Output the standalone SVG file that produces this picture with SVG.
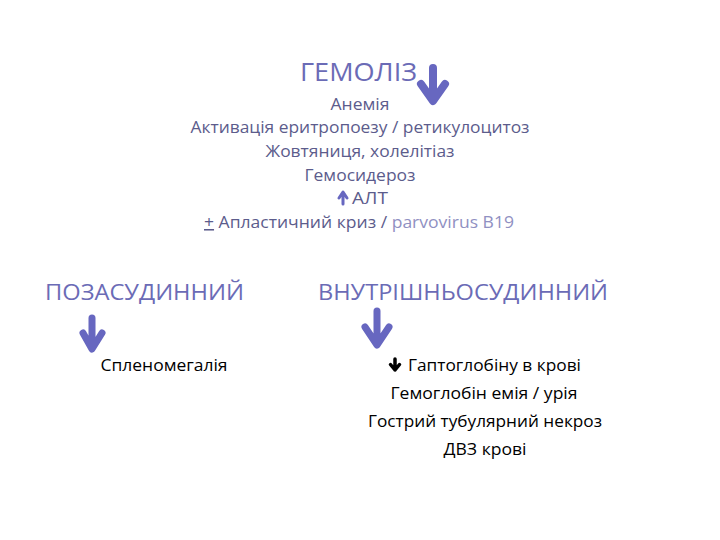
<svg xmlns="http://www.w3.org/2000/svg" width="720" height="540" viewBox="0 0 720 540">
<defs>
<style>
text{font-family:"Open Sans","Noto Sans","Liberation Sans",sans-serif;}
.h{fill:#6b6bb6;font-size:22px;}
.t{fill:#5c5c8c;font-size:15.5px;text-anchor:middle;}
.b{fill:#000;font-size:15.5px;text-anchor:middle;}
.lt{fill:#9090c2;}
.arr{fill:none;stroke:#6767c0;stroke-width:7;stroke-linecap:round;stroke-linejoin:round;}
</style>
</defs>
<rect width="720" height="540" fill="#fff"/>
<g id="hemolysis">
<text x="300" y="81" class="h" style="font-size:26px" textLength="117" lengthAdjust="spacingAndGlyphs">ГЕМОЛІЗ</text>
<text x="360" y="110" class="t" textLength="59" lengthAdjust="spacingAndGlyphs">Анемія</text>
<text x="360" y="133" class="t" textLength="339" lengthAdjust="spacingAndGlyphs">Активація еритропоезу / ретикулоцитоз</text>
<text x="360" y="157" class="t" textLength="189" lengthAdjust="spacingAndGlyphs">Жовтяниця, холелітіаз</text>
<text x="360" y="181" class="t" textLength="111" lengthAdjust="spacingAndGlyphs">Гемосидероз</text>
<path d="M343,204 V194 M339,198 L343,192 L347,198" fill="none" stroke="#6767c0" stroke-width="3" stroke-linecap="round" stroke-linejoin="round"/>
<text x="352" y="204" class="t" style="text-anchor:start" textLength="36" lengthAdjust="spacingAndGlyphs">АЛТ</text>
<text x="204" y="228" class="t" style="text-anchor:start" textLength="310" lengthAdjust="spacingAndGlyphs"><tspan text-decoration="underline">+</tspan> Апластичний криз / <tspan class="lt">parvovirus B19</tspan></text>
</g>
<g id="extravascular">
<text x="45" y="300" class="h" textLength="199" lengthAdjust="spacingAndGlyphs">ПОЗАСУДИННИЙ</text>
<text x="164" y="371" class="b" textLength="127" lengthAdjust="spacingAndGlyphs">Спленомегалія</text>
</g>
<g id="intravascular">
<text x="318" y="300" class="h" textLength="290" lengthAdjust="spacingAndGlyphs">ВНУТРІШНЬОСУДИННИЙ</text>
<path d="M395,370 V359 M390.5,364.5 L395,370 L399.5,364.5" fill="none" stroke="#000" stroke-width="3.5" stroke-linecap="round" stroke-linejoin="round"/>
<text x="408" y="371" class="b" style="text-anchor:start" textLength="173" lengthAdjust="spacingAndGlyphs">Гаптоглобіну в крові</text>
<text x="484" y="399" class="b" textLength="187" lengthAdjust="spacingAndGlyphs">Гемоглобін емія / урія</text>
<text x="485" y="427" class="b" textLength="234" lengthAdjust="spacingAndGlyphs">Гострий тубулярний некроз</text>
<text x="485" y="455" class="b" textLength="83" lengthAdjust="spacingAndGlyphs">ДВЗ крові</text>
</g>
<g id="connectors">
<path class="arr" style="stroke-width:8" d="M433,68 V100 M421,84 L433,101 L445,84"/>
<path class="arr" d="M92,318 V348 M83,333 L92,349 L102,333"/>
<path class="arr" d="M377,311 V344 M365,327 L377,345 L389,327"/>
</g>
</svg>
